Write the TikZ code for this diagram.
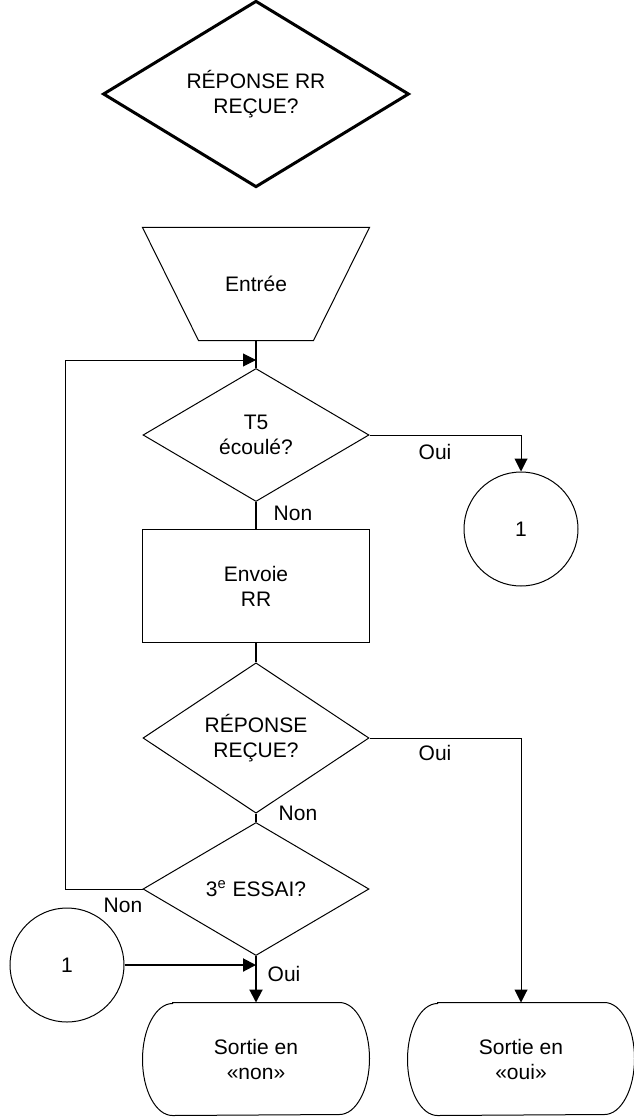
\documentclass[tikz,border=0pt]{standalone}
\usepackage{fontspec}
\setmainfont{Liberation Sans}
\usetikzlibrary{shapes.geometric,arrows.meta}
\begin{document}
\begin{tikzpicture}[x=.5pt, y=-.5pt, font=\fontsize{10.5}{12.5}\selectfont,
	box/.style={draw, line width=.5pt, align=center, inner sep=0pt},
	decision/.style={box, diamond, minimum width=113pt, minimum height=66.5pt},
	process/.style={box, rectangle, minimum width=113.5pt, minimum height=56.5pt},
	entry/.style={box, draw=none, rectangle, minimum width=113pt, minimum height=56pt},
	connector/.style={box, circle, minimum size=57pt},
	terminal/.style={box, draw=none, rectangle, minimum width=113pt, minimum height=56pt},
	mainline/.style={line width=1pt},
	sideline/.style={line width=.5pt},
	tip/.style={-{Triangle[length=6.5pt,width=6.5pt]}},
	answer/.style={inner sep=0pt}]
\useasboundingbox (0,0) rectangle (633,1117);
%shapes
\node[decision, line width=1.5pt, minimum width=153pt, minimum height=89pt] (top) at (256,94) {RÉPONSE RR\\REÇUE?};
\node[entry] (entree) at (256,284) {Entrée};
\node[decision] (t5) at (256,435) {T5\\écoulé?};
\node[process] (envoi) at (256,586) {Envoie\\RR};
\node[decision] (rep) at (256,738) {RÉPONSE\\REÇUE?};
\node[decision] (essai) at (256,889) {3\textsuperscript{e} ESSAI?};
\node[connector] (c1) at (521,529) {1};
\node[connector] (c2) at (67,965) {1};
\node[terminal] (snon) at (256,1059) {Sortie en\\«non»};
\node[terminal] (soui) at (521,1059) {Sortie en\\«oui»};
%entry outline
\draw[line width=.5pt] (entree.north west) -- (entree.north east)
	-- ([xshift=-28pt]entree.south east) -- ([xshift=28pt]entree.south west) -- cycle;
%terminal outlines
\foreach \t in {snon,soui}
\draw[line width=.5pt] ([xshift=15pt]\t.north west) -- ([xshift=-15pt]\t.north east)
	arc[start angle=90, end angle=-90, x radius=15pt, y radius=28pt]
	-- ([xshift=15pt]\t.south west)
	arc[start angle=270, end angle=90, x radius=15pt, y radius=28pt] -- cycle;
%connectors
\coordinate (join) at (256,360);
\draw[mainline] (entree.south) -- (t5.north);
\draw[sideline, tip] (essai.west) -- ++(-77,0) |- (join);
\draw[sideline, tip] (t5.east) -| (c1.north);
\draw[mainline] (t5.south) -- (envoi.north);
\draw[mainline] (envoi.south) -- (rep.north);
\draw[sideline, tip] (rep.east) -| (soui.north);
\draw[mainline] (rep.south) -- (essai.north);
\draw[mainline, tip] (essai.south) -- (snon.north);
\draw[mainline, tip] (c2.east) -- (c2.east -| essai.south);
%labels
\node[answer] (oui1) at (435,452) {Oui};
\node[answer] (non1) at (293,513) {Non};
\node[answer] (oui2) at (435,753) {Oui};
\node[answer] (non2) at (298,813) {Non};
\node[answer] (non3) at (123,905) {Non};
\node[answer] (oui3) at (284,974) {Oui};
\end{tikzpicture}
\end{document}
